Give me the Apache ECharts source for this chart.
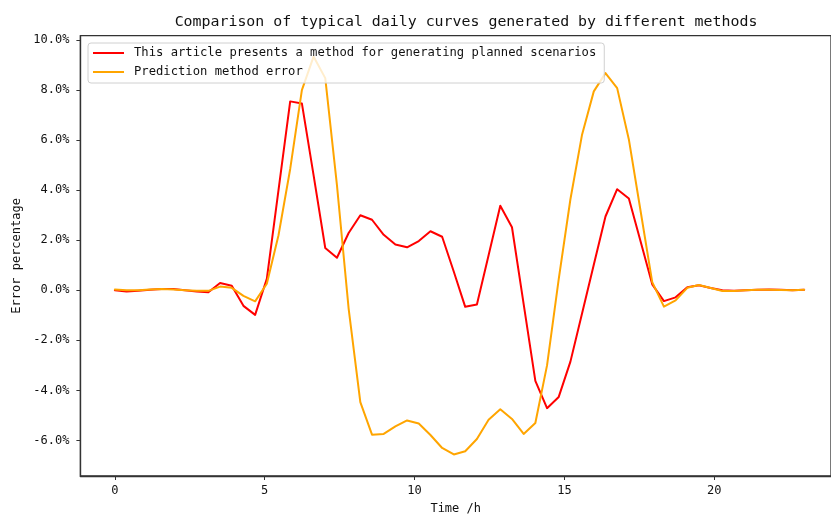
<!DOCTYPE html>
<html>
<head>
<meta charset="utf-8">
<script src="https://cdn.jsdelivr.net/npm/echarts@6/dist/echarts.min.js"></script>
<style>
html,body{margin:0;padding:0;background:#fff;}
#chart{width:831px;height:520px;}
</style>
</head>
<body>
<div id="chart"></div>
<script>
const times = [0, 0.39, 0.78, 1.17, 1.56, 1.95, 2.34, 2.73, 3.12, 3.51, 3.90, 4.29, 4.68, 5.07, 5.46, 5.85, 6.24, 6.63, 7.02, 7.41, 7.80, 8.19, 8.58, 8.97, 9.36, 9.75, 10.14, 10.53, 10.92, 11.31, 11.69, 12.08, 12.47, 12.86, 13.25, 13.64, 14.03, 14.42, 14.81, 15.20, 15.59, 15.98, 16.37, 16.76, 17.15, 17.54, 17.93, 18.32, 18.71, 19.10, 19.49, 19.88, 20.27, 20.66, 21.05, 21.44, 21.83, 22.22, 22.61, 23.00];

const proposedError = [0.0, -0.05, -0.02, 0.02, 0.05, 0.05, 0.0, -0.05, -0.08, 0.29, 0.18, -0.62, -0.98, 0.46, 4.0, 7.55, 7.47, 4.6, 1.69, 1.30, 2.29, 3.0, 2.82, 2.22, 1.83, 1.72, 1.97, 2.36, 2.14, 0.74, -0.66, -0.57, 1.40, 3.38, 2.52, -0.55, -3.62, -4.71, -4.26, -2.85, -0.92, 1.02, 2.95, 4.04, 3.67, 1.96, 0.24, -0.43, -0.28, 0.12, 0.2, 0.09, 0.0, -0.02, 0.0, 0.02, 0.03, 0.02, 0.0, 0.02];

const predictionError = [0.03, 0.0, 0.0, 0.03, 0.05, 0.03, 0.0, -0.02, -0.02, 0.15, 0.1, -0.22, -0.44, 0.26, 2.2, 4.85, 8.0, 9.34, 8.48, 4.2, -0.73, -4.47, -5.77, -5.74, -5.44, -5.2, -5.32, -5.78, -6.3, -6.56, -6.43, -5.94, -5.17, -4.75, -5.14, -5.74, -5.3, -3.0, 0.45, 3.64, 6.23, 7.95, 8.68, 8.08, 6.03, 3.18, 0.33, -0.65, -0.4, 0.1, 0.21, 0.09, -0.03, -0.03, 0.0, 0.02, 0.02, 0.01, 0.0, 0.02];

const xTicks = [0, 5, 10, 15, 20];
const yTicks = [-6, -4, -2, 0, 2, 4, 6, 8, 10];

const seriesNames = ['This article presents a method for generating planned scenarios', 'Prediction method error'];
const titleText = 'Comparison of typical daily curves generated by different methods';
const xName = 'Time /h';
const yName = 'Error percentage';

const mono = "'DejaVu Sans Mono', 'Liberation Mono', monospace";
const chart = echarts.init(document.getElementById('chart'), null, {renderer: 'canvas'});

const pair = (arr) => times.map((t, i) => [t, arr[i]]);

chart.setOption({
  animation: false,
  backgroundColor: '#fff',
  title: {
    text: titleText,
    left: 461,
    textAlign: 'center',
    top: 10,
    textStyle: {fontFamily: mono, fontSize: 14.9, fontWeight: 'normal', color: '#111'}
  },
  legend: {
    orient: 'vertical',
    left: 88,
    top: 43,
    padding: [4, 8, 5, 5],
    itemGap: 7,
    itemWidth: 31,
    itemHeight: 14,
    icon: 'path://M0,0L31,0L31,2L0,2Z',
    backgroundColor: 'rgba(255,255,255,0.8)',
    borderColor: '#d0d0d0',
    borderWidth: 1,
    borderRadius: 3,
    textStyle: {fontFamily: mono, fontSize: 12.2, color: '#111', padding: [0, 0, 0, 5]},
    data: seriesNames
  },
  grid: {
    left: 80.4, right: -2, top: 35.7, bottom: 520 - 478.3,
    show: true, borderColor: '#333', borderWidth: 1.3, backgroundColor: 'transparent'
  },
  xAxis: {
    type: 'value',
    min: -1.15,
    max: -1.15 + (833 - 80.4) / 30.05,
    name: xName,
    nameLocation: 'middle',
    nameGap: 27,
    nameTextStyle: {fontFamily: mono, fontSize: 12, color: '#111'},
    axisLine: {show: true, onZero: false, lineStyle: {color: '#333', width: 1.3}},
    axisTick: {show: true, inside: false, length: 4, lineStyle: {color: '#333', width: 1}, customValues: xTicks},
    axisLabel: {fontFamily: mono, fontSize: 12, color: '#111', margin: 9, customValues: xTicks, formatter: v => String(v)},
    splitLine: {show: false}
  },
  yAxis: {
    type: 'value',
    min: -7.42,
    max: 10.175,
    name: yName,
    nameLocation: 'middle',
    nameRotate: 90,
    nameGap: 56,
    nameTextStyle: {fontFamily: mono, fontSize: 12, color: '#111'},
    axisLine: {show: true, onZero: false, lineStyle: {color: '#333', width: 1.3}},
    axisTick: {show: true, inside: false, length: 4, lineStyle: {color: '#333', width: 1}, customValues: yTicks},
    axisLabel: {fontFamily: mono, fontSize: 12, color: '#111', margin: 11, customValues: yTicks, formatter: v => v.toFixed(1) + '%'},
    splitLine: {show: false}
  },
  series: [
    {
      name: seriesNames[0],
      type: 'line',
      data: pair(proposedError),
      symbol: 'none',
      color: '#ff0000',
      lineStyle: {color: '#ff0000', width: 2, join: 'round', cap: 'round'},
      z: 2
    },
    {
      name: seriesNames[1],
      type: 'line',
      data: pair(predictionError),
      symbol: 'none',
      color: '#ffa500',
      lineStyle: {color: '#ffa500', width: 2, join: 'round', cap: 'round'},
      z: 3
    }
  ]
});
</script>
</body>
</html>
